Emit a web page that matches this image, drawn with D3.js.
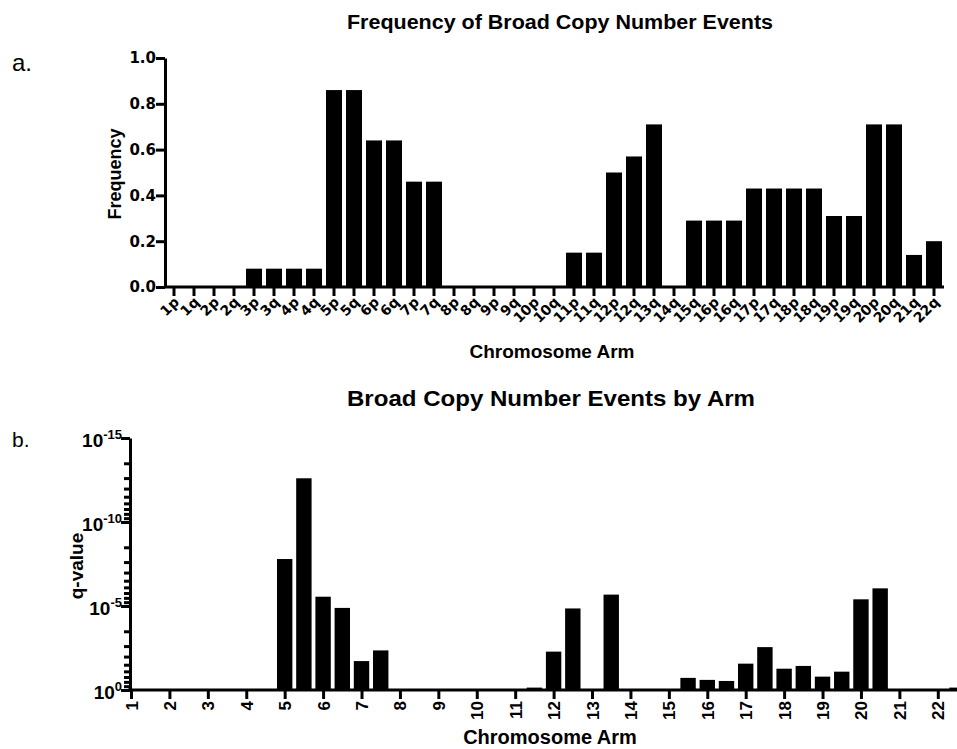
<!DOCTYPE html>
<html>
<head>
<meta charset="utf-8">
<script src="https://cdn.jsdelivr.net/npm/d3@7"></script>
<style>
  body { margin: 0; background: #fff; }
  svg { display: block; font-family: "Liberation Sans", Arial, sans-serif; }
  .domain { stroke-width: 3px; }
  .tick line { stroke-width: 3px; }
</style>
</head>
<body>
<div id="chart"></div>
<script>
// chromosome arms, frequency of broad events (panel a)
arms = ["1p","1q","2p","2q","3p","3q","4p","4q","5p","5q","6p","6q","7p","7q",
  "8p","8q","9p","9q","10p","10q","11p","11q","12p","12q","13q","14q","15q",
  "16p","16q","17p","17q","18p","18q","19p","19q","20p","20q","21q","22q"];
freq = [0,0,0,0,0.08,0.08,0.08,0.08,0.86,0.86,0.64,0.64,0.46,0.46,
  0,0,0,0,0,0,0.15,0.15,0.50,0.57,0.71,0,0.29,
  0.29,0.29,0.43,0.43,0.43,0.43,0.31,0.31,0.71,0.71,0.14,0.20];
freqTicks = [0, 0.2, 0.4, 0.6, 0.8, 1.0];

// panel b: q-values per arm (1 = not significant)
qvals = [1,1,1,1,1,1,1,1,1.6e-8,2.5e-13,2.8e-6,1.3e-5,1.9e-2,4.4e-3,
  1,1,1,1,1,1,1,0.72,5.2e-3,1.4e-5,2.1e-6,1,0.19,
  0.25,0.29,0.027,2.8e-3,0.054,0.037,0.16,0.081,4.0e-6,8.9e-7,1,0.72];
chromTicks = d3.range(1, 23);
qTicks = [1, 1e-5, 1e-10, 1e-15];
qTickExp = ["0", "-5", "-10", "-15"];

var width = 957, height = 749;

var svg = d3.select("#chart").append("svg")
    .attr("width", width)
    .attr("height", height);

// ---------- panel a ----------
var xA = d3.scaleBand()
  .domain(arms)
  .range([164, 944])
  .paddingInner(0.2)
  .paddingOuter(0.1);

var yA = d3.scaleLinear()
  .domain([0, 1])
  .range([287, 58]);

svg.append("g")
  .selectAll("rect")
  .data(arms)
  .enter()
  .append("rect")
  .attr("x", function(d) { return xA(d); })
  .attr("width", xA.bandwidth())
  .attr("y", function(d, i) { return yA(freq[i]); })
  .attr("height", function(d, i) { return yA(0) - yA(freq[i]); })
  .attr("fill", "#000");

var axA = svg.append("g")
  .attr("transform", "translate(0,287)")
  .call(d3.axisBottom(xA).tickSize(9).tickSizeOuter(0));
axA.select(".domain").attr("d", "M164,0H944");
axA.selectAll("text")
  .attr("font-family", "DejaVu Sans")
  .attr("font-weight", "bold")
  .attr("font-size", 14)
  .attr("text-anchor", "end")
  .attr("dy", null)
  .attr("y", null)
  .attr("transform", "translate(6,16) rotate(-45)");

var ayA = svg.append("g")
  .attr("transform", "translate(165,0)")
  .call(d3.axisLeft(yA).tickValues(freqTicks).tickFormat(d3.format(".1f")).tickSize(9).tickSizeOuter(0));
ayA.selectAll("text")
  .attr("font-family", "DejaVu Sans")
  .attr("font-weight", "bold")
  .attr("font-size", 15)
  .attr("x", -9);

svg.append("text")
  .attr("x", 560).attr("y", 29)
  .attr("text-anchor", "middle")
  .attr("textLength", 426)
  .attr("lengthAdjust", "spacingAndGlyphs")
  .style("font-weight", "bold").style("font-size", "20px")
  .text("Frequency of Broad Copy Number Events");

svg.append("text")
  .attr("x", 12).attr("y", 71)
  .style("font-size", "24px")
  .text("a.");

svg.append("text")
  .attr("transform", "translate(121,174) rotate(-90)")
  .attr("text-anchor", "middle")
  .style("font-weight", "bold").style("font-size", "18px")
  .text("Frequency");

svg.append("text")
  .attr("x", 552).attr("y", 358)
  .attr("text-anchor", "middle")
  .style("font-weight", "bold").style("font-size", "19px")
  .text("Chromosome Arm");

// ---------- panel b ----------
var xB = d3.scaleLinear()
  .domain([1, 22.5])
  .range([131, 957]);

var yB = d3.scaleLog()
  .domain([1, 1e-15])
  .range([690, 438]);

function armPos(a) {
  var n = parseInt(a, 10);
  return a.slice(-1) === "q" ? n + 0.5 : n;
}

var barW = 15.4;
svg.append("g")
  .selectAll("rect")
  .data(arms)
  .enter()
  .append("rect")
  .attr("x", function(d) { return xB(armPos(d)) - barW / 2; })
  .attr("width", barW)
  .attr("y", function(d, i) { return yB(qvals[i]); })
  .attr("height", function(d, i) { return yB(1) - yB(qvals[i]); })
  .attr("fill", "#000");

var axB = svg.append("g")
  .attr("transform", "translate(0,690)")
  .call(d3.axisBottom(xB).tickValues(chromTicks).tickSize(9).tickSizeOuter(0));
axB.select(".domain").attr("d", "M128,0H957").attr("stroke-width", 3.5);
axB.selectAll(".tick line").attr("stroke-width", 4);
axB.selectAll("text")
  .attr("font-family", "Liberation Sans")
  .attr("font-weight", "bold")
  .attr("font-size", 17)
  .attr("text-anchor", "end")
  .attr("dy", null)
  .attr("y", null)
  .attr("transform", "translate(6,11) rotate(-90)");

// minor ticks within each 5-decade block
var minorTicks = [];
[-15, -10, -5].forEach(function(t) {
  d3.range(2, 10).forEach(function(k) { minorTicks.push(Math.pow(10, t) * Math.pow(k, 5)); });
});

svg.append("g")
  .attr("transform", "translate(130,0)")
  .call(d3.axisLeft(yB).tickValues(minorTicks).tickFormat("").tickSize(6).tickSizeOuter(0))
  .select(".domain").remove();

var ayB = svg.append("g")
  .attr("transform", "translate(130,0)")
  .call(d3.axisLeft(yB).tickValues(qTicks).tickFormat("").tickSize(9).tickSizeOuter(0));
ayB.select(".domain").attr("stroke-width", 3.5);

var qLab = svg.append("g")
  .selectAll("text")
  .data(qTicks)
  .enter()
  .append("text")
  .attr("x", 122)
  .attr("y", function(d) { return yB(d) + 9; })
  .attr("text-anchor", "end")
  .style("font-weight", "bold")
  .style("font-size", "19px");
qLab.append("tspan").text("10");
qLab.append("tspan")
  .attr("dy", -8)
  .style("font-size", "13px")
  .text(function(d, i) { return qTickExp[i]; });

svg.append("text")
  .attr("x", 551).attr("y", 406)
  .attr("text-anchor", "middle")
  .attr("textLength", 408)
  .attr("lengthAdjust", "spacingAndGlyphs")
  .style("font-weight", "bold").style("font-size", "22px")
  .text("Broad Copy Number Events by Arm");

svg.append("text")
  .attr("x", 12).attr("y", 447)
  .style("font-size", "21px")
  .text("b.");

svg.append("text")
  .attr("transform", "translate(83,566) rotate(-90)")
  .attr("text-anchor", "middle")
  .style("font-weight", "bold").style("font-size", "19px")
  .text("q-value");

svg.append("text")
  .attr("x", 550).attr("y", 744)
  .attr("text-anchor", "middle")
  .style("font-weight", "bold").style("font-size", "20px")
  .text("Chromosome Arm");
</script>
</body>
</html>
